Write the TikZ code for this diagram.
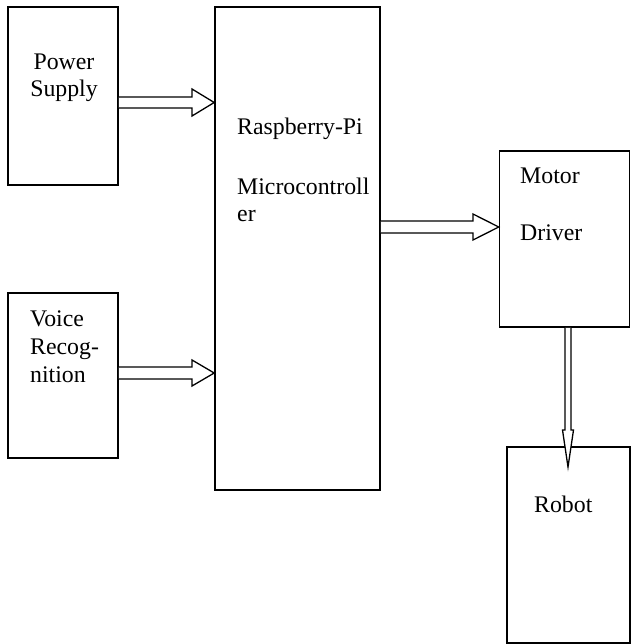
\documentclass[tikz,border=0pt]{standalone}
\usepackage{fontspec}
\setmainfont{Liberation Serif}
\usepackage{tikz}
\usetikzlibrary{positioning, calc}

\tikzset{
  block/.style={draw, line width=1.6pt, inner sep=0pt},
  blocktext/.style={inner sep=0pt, font=\fontsize{23.8}{27.6}\selectfont},
  blockarrow/.style={draw, line width=1.3pt, fill=white, line join=miter}
}

\begin{document}
\begin{tikzpicture}[x=1pt, y=-1pt]
  \useasboundingbox (0,0) rectangle (632,644);

  % boxes
  \node[block, minimum width=110pt, minimum height=178pt] (ps) at (63,96) {};
  \node[block, minimum width=165pt, minimum height=483pt] (rpi) at (297.5,248.5) {};
  \node[block, minimum width=110pt, minimum height=165pt] (vr) at (63,375.5) {};
  \node[block, minimum width=130pt, minimum height=176pt] (md) at (564.5,239) {};
  \node[block, minimum width=123pt, minimum height=196pt] (robot) at (568.5,545) {};

  % texts (base anchor sits on the last line)
  \node[blocktext, anchor=base, align=center] (ps-text) at (64,97) {Power\\Supply};
  \node[blocktext, anchor=base west, align=left] (rpi-text) at (237,222) {Raspberry-Pi\\[32pt]Microcontroll\\er};
  \node[blocktext, anchor=base west, align=left] (vr-text) at (30,382) {Voice\\Recog-\\nition};
  \node[blocktext, anchor=base west, align=left] (md-text) at (520,240) {Motor\\[29pt]Driver};
  \node[blocktext, anchor=base west] (robot-text) at (534,512) {Robot};

  % arrows
  \coordinate (robot-in) at (568,467);
  \draw[blockarrow] (ps.east |- 0,97) -- (192,97) -- (192,89) -- (rpi.west |- 0,102.5)
    -- (192,116) -- (192,108) -- (ps.east |- 0,108);
  \draw[blockarrow] (vr.east |- 0,367) -- (192,367) -- (192,360) -- (rpi.west |- 0,373)
    -- (192,386) -- (192,379) -- (vr.east |- 0,379);
  \draw[blockarrow] (rpi.east |- 0,221) -- (473,221) -- (473,214) -- (md.west |- 0,227)
    -- (473,240) -- (473,233) -- (rpi.east |- 0,233);
  \draw[blockarrow] (md.south -| 565,0) -- (565,430) -- (562.5,430) -- (robot-in)
    -- (573.5,430) -- (571,430) -- (md.south -| 571,0);
\end{tikzpicture}
\end{document}
